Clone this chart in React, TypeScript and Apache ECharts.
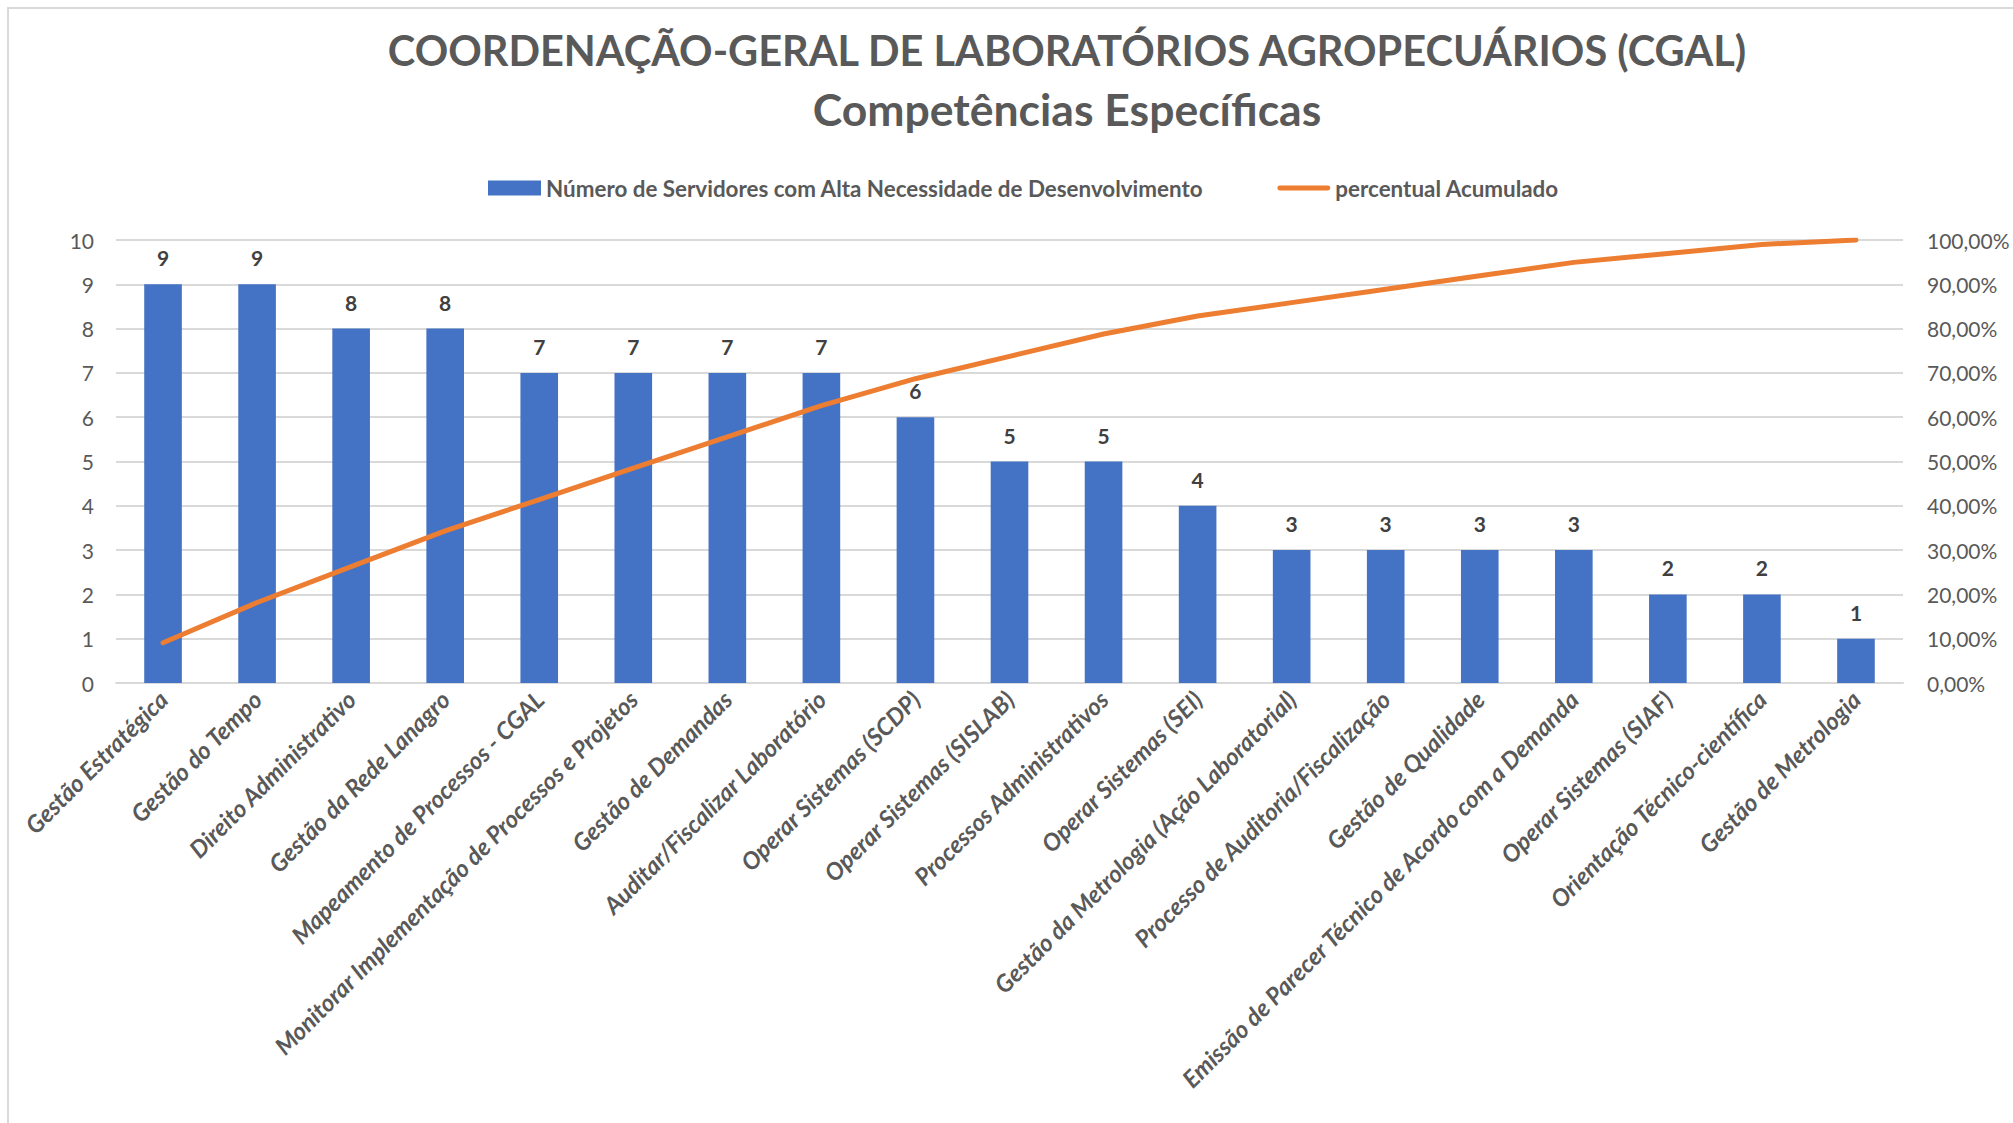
import React, { useEffect, useRef } from "react";
import * as echarts from "echarts";

const categories: string[] = [
  "Gestão Estratégica",
  "Gestão do Tempo",
  "Direito Administrativo",
  "Gestão da Rede Lanagro",
  "Mapeamento de Processos - CGAL",
  "Monitorar Implementação de Processos e Projetos",
  "Gestão de Demandas",
  "Auditar/Fiscalizar Laboratório",
  "Operar Sistemas (SCDP)",
  "Operar Sistemas (SISLAB)",
  "Processos Administrativos",
  "Operar Sistemas (SEI)",
  "Gestão da Metrologia (Ação Laboratorial)",
  "Processo de Auditoria/Fiscalização",
  "Gestão de Qualidade",
  "Emissão de Parecer Técnico de Acordo com a Demanda",
  "Operar Sistemas (SIAF)",
  "Orientação Técnico-científica",
  "Gestão de Metrologia",
];

const servidores: number[] = [9, 9, 8, 8, 7, 7, 7, 7, 6, 5, 5, 4, 3, 3, 3, 3, 2, 2, 1];

const percentualAcumulado: number[] = [
  9.09, 18.18, 26.26, 34.34, 41.41, 48.48, 55.56, 62.63, 68.69, 73.74, 78.79,
  82.83, 85.86, 88.89, 91.92, 94.95, 96.97, 98.99, 100,
];

const titleLine1 = "COORDENAÇÃO-GERAL DE LABORATÓRIOS AGROPECUÁRIOS (CGAL)";
const titleLine2 = "Competências Específicas";
const barName = "Número de Servidores com Alta Necessidade de Desenvolvimento";
const lineName = "percentual Acumulado";

const FONT = "Lato, 'Open Sans', sans-serif";
const GRAY = "#595959";

export default function App() {
  const ref = useRef<HTMLDivElement>(null);

  useEffect(() => {
    document.body.style.margin = "0";
    const chart = echarts.init(ref.current!, undefined, { renderer: "svg" });
    chart.setOption({
      animation: false,
      backgroundColor: "#ffffff",
      textStyle: { fontFamily: FONT },
      title: [
        {
          text: titleLine1,
          left: 1062,
          top: 24,
          textAlign: "center",
          textStyle: { fontFamily: FONT, fontSize: 41.5, fontWeight: "bold", color: GRAY },
        },
        {
          text: titleLine2,
          left: 1062,
          top: 81,
          textAlign: "center",
          textStyle: { fontFamily: FONT, fontSize: 44.5, fontWeight: "bold", color: GRAY },
        },
      ],
      graphic: [
        {
          type: "rect",
          silent: true,
          shape: { x: 8, y: 8, width: 2100, height: 1200 },
          style: { fill: "none", stroke: "#d9d9d9", lineWidth: 2 },
        },
      ],
      legend: {
        top: 172,
        left: 483,
        itemGap: 74,
        itemWidth: 53,
        itemHeight: 15,
        textStyle: { fontFamily: FONT, fontSize: 22.4, fontWeight: "bold", color: GRAY },
        data: [
          { name: barName, icon: "rect" },
          {
            name: lineName,
            icon: "path://M2.5,0 L51.5,0 A2.5,2.5 0 0 1 51.5,5 L2.5,5 A2.5,2.5 0 0 1 2.5,0 Z",
            itemStyle: { color: "#ED7D31" },
          },
        ],
      },
      grid: { left: 116, right: 110, top: 240, bottom: 440, containLabel: false },
      xAxis: {
        type: "category",
        data: categories,
        axisLine: { show: true, lineStyle: { color: "#d9d9d9", width: 2 } },
        axisTick: { show: false },
        axisLabel: {
          interval: 0,
          rotate: 45,
          margin: 12,
          fontFamily: FONT,
          fontSize: 24,
          fontStyle: "italic",
          fontWeight: "bold",
          color: GRAY,
        },
      },
      yAxis: [
        {
          type: "value",
          min: 0,
          max: 10,
          interval: 1,
          axisLine: { show: false },
          axisTick: { show: false },
          splitLine: { lineStyle: { color: "#d9d9d9", width: 2 } },
          axisLabel: { fontFamily: FONT, fontSize: 21, color: GRAY, margin: 22 },
        },
        {
          type: "value",
          min: 0,
          max: 100,
          interval: 10,
          axisLine: { show: false },
          axisTick: { show: false },
          splitLine: { show: false },
          axisLabel: {
            fontFamily: FONT,
            fontSize: 21,
            color: GRAY,
            margin: 24,
            formatter: (v: number) => v.toFixed(2).replace(".", ",") + "%",
          },
        },
      ],
      series: [
        {
          name: barName,
          type: "bar",
          data: servidores,
          barWidth: "40%",
          itemStyle: { color: "#4472C4" },
          label: {
            show: true,
            position: "top",
            distance: 16,
            fontFamily: FONT,
            fontSize: 21,
            fontWeight: "bold",
            color: "#404040",
          },
        },
        {
          name: lineName,
          type: "line",
          yAxisIndex: 1,
          data: percentualAcumulado,
          symbol: "none",
          lineStyle: { color: "#ED7D31", width: 5, cap: "round", join: "round" },
          itemStyle: { color: "#ED7D31" },
        },
      ],
    });
    return () => chart.dispose();
  }, []);

  return (
    <div
      ref={ref}
      style={{ position: "fixed", left: 0, top: 0, width: 2013, height: 1123 }}
    />
  );
}
